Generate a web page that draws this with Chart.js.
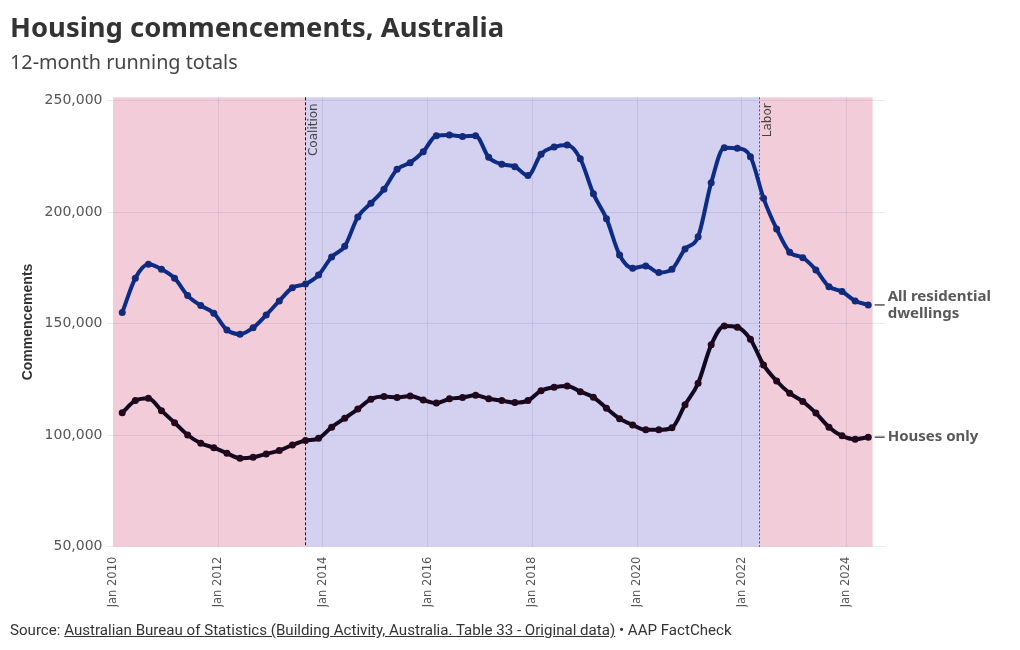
<!DOCTYPE html>
<html>
<head>
<meta charset="utf-8">
<script src="https://cdn.jsdelivr.net/npm/chart.js@4.4.1/dist/chart.umd.min.js"></script>
<style>
  body { margin: 0; width: 1020px; height: 650px; background: #fff; position: relative; overflow: hidden; }
  #title { position: absolute; left: 10px; top: 8px; font: 700 27.4px "Noto Sans", sans-serif; color: #333; white-space: nowrap; }
  #subtitle { position: absolute; left: 10px; top: 48px; font: 400 19.8px "Noto Sans", sans-serif; color: #444; white-space: nowrap; }
  #source { position: absolute; left: 10px; top: 621px; font: 400 15.1px "Liberation Sans Narrow", "Roboto", sans-serif; color: #333; white-space: nowrap; }
  #source a { color: #333; text-decoration: underline; }
  #wrap { position: absolute; left: 0; top: 0; width: 1020px; height: 650px; }
</style>
</head>
<body>
<div id="wrap"><canvas id="chart" width="1020" height="650"></canvas></div>
<div id="title">Housing commencements, Australia</div>
<div id="subtitle">12-month running totals</div>
<div id="source">Source: <a>Australian Bureau of Statistics (Building Activity, Australia. Table 33 - Original data)</a> • AAP FactCheck</div>
<script>
// quarterly periods, year-month
const quarters = [
  '2010-03', '2010-06', '2010-09', '2010-12',
  '2011-03', '2011-06', '2011-09', '2011-12',
  '2012-03', '2012-06', '2012-09', '2012-12',
  '2013-03', '2013-06', '2013-09', '2013-12',
  '2014-03', '2014-06', '2014-09', '2014-12',
  '2015-03', '2015-06', '2015-09', '2015-12',
  '2016-03', '2016-06', '2016-09', '2016-12',
  '2017-03', '2017-06', '2017-09', '2017-12',
  '2018-03', '2018-06', '2018-09', '2018-12',
  '2019-03', '2019-06', '2019-09', '2019-12',
  '2020-03', '2020-06', '2020-09', '2020-12',
  '2021-03', '2021-06', '2021-09', '2021-12',
  '2022-03', '2022-06', '2022-09', '2022-12',
  '2023-03', '2023-06', '2023-09', '2023-12',
  '2024-03', '2024-06'
];

const allDwellings = [
  155000, 170400, 176600, 174400,
  170400, 162600, 158100, 154700,
  147200, 145300, 148200, 153900,
  160200, 166100, 167800, 171800,
  179900, 184700, 197800, 204000,
  210300, 219200, 222200, 227100,
  234300, 234600, 233900, 234300,
  224600, 221500, 220400, 216400,
  226000, 229200, 230100, 223900,
  208200, 197100, 180800, 174900,
  175900, 172900, 174400, 183500,
  189000, 213200, 228900, 228600,
  224900, 206200, 192500, 182000,
  179600, 174100, 166600, 164400,
  160200, 158400
];

const housesOnly = [
  110100, 115500, 116600, 111000,
  105600, 100100, 96400, 94400,
  91900, 89700, 90100, 91600,
  93100, 95600, 97600, 98600,
  103600, 107600, 111700, 116100,
  117300, 116900, 117600, 115800,
  114400, 116300, 116900, 117900,
  116300, 115500, 114600, 115500,
  119900, 121500, 122100, 119500,
  117000, 112100, 107400, 104600,
  102400, 102400, 103300, 113600,
  123300, 140500, 149000, 148400,
  143000, 131500, 124300, 118800,
  115100, 109900, 103600, 99700,
  98200, 99100
];

const yTicks = [50000, 100000, 150000, 200000, 250000];
const xTickYears = [2010, 2012, 2014, 2016, 2018, 2020, 2022, 2024];

// government periods: start month, label, fill
const govPeriods = [
  { start: '2010-01', end: '2013-09', label: null, color: '#f2cdd9' },
  { start: '2013-09', end: '2022-05', label: 'Coalition', color: '#d3d0f0' },
  { start: '2022-05', end: '2024-07', label: 'Labor', color: '#f2cdd9' }
];

const seriesNames = [['All residential', 'dwellings'], ['Houses only']];

function toYear(ym) {
  const [y, m] = ym.split('-').map(Number);
  return y + (m - 1) / 12;
}

const govPlugin = {
  id: 'gov',
  beforeDraw(chart) {
    const { ctx, chartArea, scales: { x } } = chart;
    ctx.save();
    govPeriods.forEach(p => {
      const x0 = x.getPixelForValue(toYear(p.start));
      const x1 = x.getPixelForValue(toYear(p.end));
      ctx.fillStyle = p.color;
      ctx.fillRect(x0, chartArea.top, x1 - x0, chartArea.bottom - chartArea.top);
    });
    ctx.restore();
  },
  beforeDatasetsDraw(chart) {
    const { ctx, chartArea, scales: { x } } = chart;
    ctx.save();
    govPeriods.filter(p => p.label).forEach((p, i) => {
      const px = Math.round(x.getPixelForValue(toYear(p.start))) + 0.5;
      ctx.strokeStyle = i === 0 ? '#111' : '#555';
      ctx.lineWidth = 1;
      ctx.setLineDash(i === 0 ? [3, 2] : [2, 2]);
      ctx.beginPath();
      ctx.moveTo(px, chartArea.top);
      ctx.lineTo(px, chartArea.bottom);
      ctx.stroke();

      ctx.save();
      ctx.translate(px + 2, chartArea.top + 6);
      ctx.rotate(-Math.PI / 2);
      ctx.fillStyle = '#444';
      ctx.font = '12px "DejaVu Sans"';
      ctx.textAlign = 'right';
      ctx.textBaseline = 'top';
      ctx.fillText(p.label, 0, 0);
      ctx.restore();
    });
    ctx.restore();
  },
  afterDatasetsDraw(chart) {
    const { ctx, chartArea } = chart;
    ctx.save();
    chart.data.datasets.forEach((ds, i) => {
      const pts = chart.getDatasetMeta(i).data;
      const y = pts[pts.length - 1].y;
      ctx.strokeStyle = '#555';
      ctx.lineWidth = 1.5;
      ctx.setLineDash([]);
      ctx.beginPath();
      ctx.moveTo(chartArea.right - 11, y);
      ctx.lineTo(chartArea.right - 1, y);
      ctx.stroke();
      const lines = seriesNames[i];
      ctx.fillStyle = '#595959';
      ctx.font = '700 15px "Noto Sans"';
      ctx.textAlign = 'left';
      ctx.textBaseline = 'middle';
      const lh = 17;
      const y0 = y - (lines.length - 1) * lh / 2;
      lines.forEach((t, k) => ctx.fillText(t, chartArea.right + 2, y0 + k * lh));
    });
    ctx.restore();
  }
};

const xs = quarters.map(toYear);

new Chart(document.getElementById('chart'), {
  type: 'line',
  data: {
    datasets: [
      {
        label: 'All residential dwellings',
        data: xs.map((x, i) => ({ x, y: allDwellings[i] })),
        borderColor: '#0b2d87',
        backgroundColor: '#13297a',
        borderWidth: 4,
        pointRadius: 3.5,
        pointBorderWidth: 0,
        cubicInterpolationMode: 'monotone'
      },
      {
        label: 'Houses only',
        data: xs.map((x, i) => ({ x, y: housesOnly[i] })),
        borderColor: '#120820',
        backgroundColor: '#22081a',
        borderWidth: 4,
        pointRadius: 3.5,
        pointBorderWidth: 0,
        cubicInterpolationMode: 'monotone'
      }
    ]
  },
  options: {
    responsive: false,
    animation: false,
    layout: { padding: { left: 0, right: 134.3, top: 97.3, bottom: 43.3 } },
    plugins: {
      legend: { display: false },
      tooltip: { enabled: false }
    },
    scales: {
      x: {
        type: 'linear',
        min: 2010,
        max: 2024.75,
        afterBuildTicks: s => { s.ticks = xTickYears.map(v => ({ value: v })); },
        afterFit: s => { s.height = 60; },
        grid: { color: 'rgba(60,60,110,0.10)', drawTicks: false },
        border: { display: false },
        ticks: {
          autoSkip: false,
          minRotation: 90,
          maxRotation: 90,
          padding: 10,
          color: '#555',
          font: { family: 'DejaVu Sans', size: 11.5 },
          callback: v => 'Jan ' + v
        }
      },
      y: {
        min: 50000,
        max: 251500,
        afterBuildTicks: s => { s.ticks = yTicks.map(v => ({ value: v })); },
        afterFit: s => { s.width = 113.5; },
        grid: { color: 'rgba(60,60,110,0.10)', tickLength: 7 },
        border: { display: false },
        ticks: {
          padding: 4,
          color: '#555',
          font: { family: 'DejaVu Sans', size: 14 },
          callback: v => v.toLocaleString('en-US')
        },
        title: {
          display: true,
          text: 'Commencements',
          color: '#333',
          font: { family: 'Liberation Sans', size: 14, weight: 'bold' },
          padding: { top: 20, bottom: 0 }
        }
      }
    }
  },
  plugins: [govPlugin]
});
</script>
</body>
</html>
